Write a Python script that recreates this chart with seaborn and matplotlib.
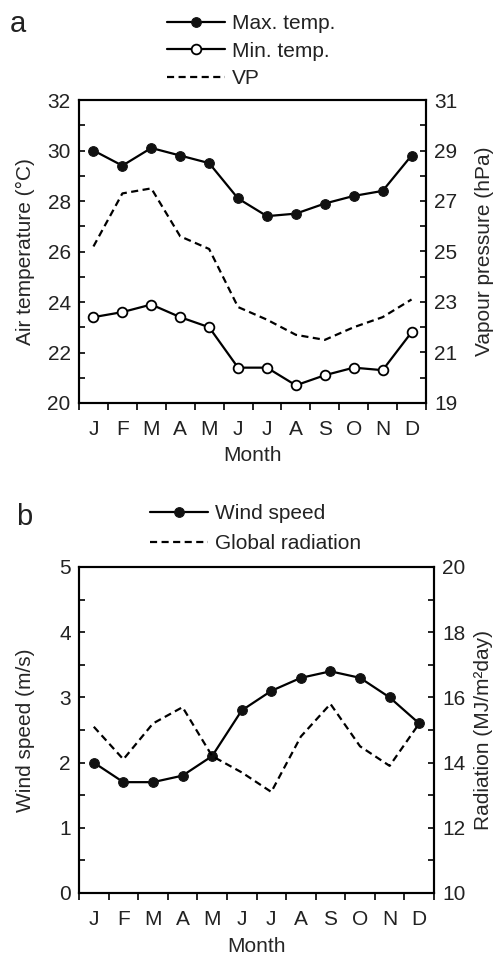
import numpy as np
import pandas as pd
import matplotlib
matplotlib.use("Agg")
import matplotlib.pyplot as plt
from matplotlib.ticker import MultipleLocator, FixedLocator, NullFormatter
import seaborn as sns

# ── data ───────────────────────────────────────────────────────────
months = ["J", "F", "M", "A", "M", "J", "J", "A", "S", "O", "N", "D"]
month_num = list(range(1, 13))

max_temp = [30.0, 29.4, 30.1, 29.8, 29.5, 28.1, 27.4, 27.5, 27.9, 28.2, 28.4, 29.8]
min_temp = [23.4, 23.6, 23.9, 23.4, 23.0, 21.4, 21.4, 20.7, 21.1, 21.4, 21.3, 22.8]
vapour_pressure = [25.2, 27.3, 27.5, 25.6, 25.1, 22.8, 22.3, 21.7, 21.5, 22.0, 22.4, 23.1]

wind_speed = [2.0, 1.7, 1.7, 1.8, 2.1, 2.8, 3.1, 3.3, 3.4, 3.3, 3.0, 2.6]
radiation = [15.1, 14.1, 15.2, 15.7, 14.2, 13.7, 13.1, 14.8, 15.8, 14.5, 13.9, 15.2]

df_a = pd.DataFrame({"Month": month_num, "Max": max_temp, "Min": min_temp, "VP": vapour_pressure})
df_b = pd.DataFrame({"Month": month_num, "Wind": wind_speed, "Rad": radiation})

sns.set_theme(style="ticks")
plt.rcParams["font.family"] = ["Liberation Sans", "DejaVu Sans"]
plt.rcParams["axes.linewidth"] = 1.5
plt.rcParams["axes.edgecolor"] = "black"
plt.rcParams["text.color"] = "#222222"
plt.rcParams["xtick.color"] = "black"
plt.rcParams["ytick.color"] = "black"
plt.rcParams["xtick.labelcolor"] = "#222222"
plt.rcParams["ytick.labelcolor"] = "#222222"

FS = 15
LW = 1.6
MS = 7
DASH = (0, (3.2, 2.0))

W, H = 497, 959
fig = plt.figure(figsize=(W / 100, H / 100), dpi=100)
ax_a = fig.add_axes([79 / W, 1 - 403 / H, 347 / W, 303 / H])
ax_b = fig.add_axes([79 / W, 1 - 893 / H, 355 / W, 326 / H])


def style_month_axis(ax):
    ax.set_xlim(0.5, 12.5)
    ax.xaxis.set_major_locator(FixedLocator(np.arange(0.5, 13, 1)))
    ax.xaxis.set_major_formatter(NullFormatter())
    ax.xaxis.set_minor_locator(FixedLocator(month_num))
    ax.set_xticklabels(months, minor=True)
    ax.tick_params(axis="x", which="major", direction="out", length=5, width=1.2)
    ax.tick_params(axis="x", which="minor", length=0, pad=12, labelsize=FS)
    ax.set_xlabel("Month", fontsize=FS)


def style_y(ax, majors, minors, lo, hi, side):
    ax.set_ylim(lo, hi)
    ax.yaxis.set_major_locator(FixedLocator(majors))
    ax.yaxis.set_minor_locator(FixedLocator(minors))
    ax.tick_params(axis="y", which="both", direction="in", length=4.5, width=1.2,
                   labelsize=FS, pad=6)
    if side == "left":
        ax.tick_params(axis="y", which="both", right=False)


# ── Panel a: temperatures + vapour pressure ────────────────────────
sns.lineplot(data=df_a, x="Month", y="Max", ax=ax_a, color="black", lw=LW,
             marker="o", markersize=MS, markerfacecolor="#111111",
             markeredgecolor="#111111", label="Max. temp.")
sns.lineplot(data=df_a, x="Month", y="Min", ax=ax_a, color="black", lw=LW,
             marker="o", markersize=MS, markerfacecolor="white",
             markeredgecolor="black", markeredgewidth=1.3, label="Min. temp.")
ax_a2 = ax_a.twinx()
sns.lineplot(data=df_a, x="Month", y="VP", ax=ax_a2, color="black", lw=LW,
             linestyle=DASH, label="VP")

style_month_axis(ax_a)
style_y(ax_a, np.arange(20, 33, 2), np.arange(21, 32, 2), 20, 32, "left")
style_y(ax_a2, np.arange(19, 32, 2), np.arange(20, 31, 2), 19, 31, "right")
ax_a.set_ylabel("Air temperature (°C)", fontsize=FS)
ax_a2.set_ylabel("Vapour pressure (hPa)", fontsize=FS)

# ── Panel b: wind speed + global radiation ─────────────────────────
sns.lineplot(data=df_b, x="Month", y="Wind", ax=ax_b, color="black", lw=LW,
             marker="o", markersize=MS, markerfacecolor="#111111",
             markeredgecolor="#111111", label="Wind speed")
ax_b2 = ax_b.twinx()
sns.lineplot(data=df_b, x="Month", y="Rad", ax=ax_b2, color="black", lw=LW,
             linestyle=DASH, label="Global radiation")

style_month_axis(ax_b)
style_y(ax_b, np.arange(0, 5.1, 1), np.arange(0.5, 5, 1), 0, 5, "left")
style_y(ax_b2, np.arange(10, 21, 2), np.arange(11, 20, 2), 10, 20, "right")
ax_b.set_ylabel("Wind speed (m/s)", fontsize=FS)
ax_b2.set_ylabel("Radiation (MJ/m²day)", fontsize=FS)

for ax in (ax_a, ax_a2, ax_b, ax_b2):
    leg = ax.get_legend()
    if leg is not None:
        leg.remove()
    for s in ax.spines.values():
        s.set_linewidth(1.5)

# label placement
ax_a.yaxis.set_label_coords(-0.127, 0.5)
ax_a2.yaxis.set_label_coords(1.141, 0.5)
ax_b.yaxis.set_label_coords(-0.124, 0.5)
ax_b2.yaxis.set_label_coords(1.112, 0.5)
ax_a.xaxis.set_label_coords(0.5, -0.143)
ax_b.xaxis.set_label_coords(0.5, -0.136)

# legends above each panel
leg_kw = dict(loc="upper left", frameon=False, handlelength=2.8, handletextpad=0.3,
              borderpad=0, borderaxespad=0, fontsize=FS)
h_a = ax_a.lines[:2] + ax_a2.lines[:1]
fig.legend(h_a, ["Max. temp.", "Min. temp.", "VP"], labelspacing=0.42,
           bbox_to_anchor=(167 / W, 1 - 14 / H), **leg_kw)
h_b = ax_b.lines[:1] + ax_b2.lines[:1]
fig.legend(h_b, ["Wind speed", "Global radiation"], labelspacing=0.55,
           bbox_to_anchor=(150 / W, 1 - 504 / H), **leg_kw)

fig.text(10 / W, 1 - 32 / H, "a", fontsize=21, va="baseline", ha="left")
fig.text(16 / W, 1 - 525 / H, "b", fontsize=21, va="baseline", ha="left")

fig.savefig("out.png", dpi=100)
print("Saved out.png")
